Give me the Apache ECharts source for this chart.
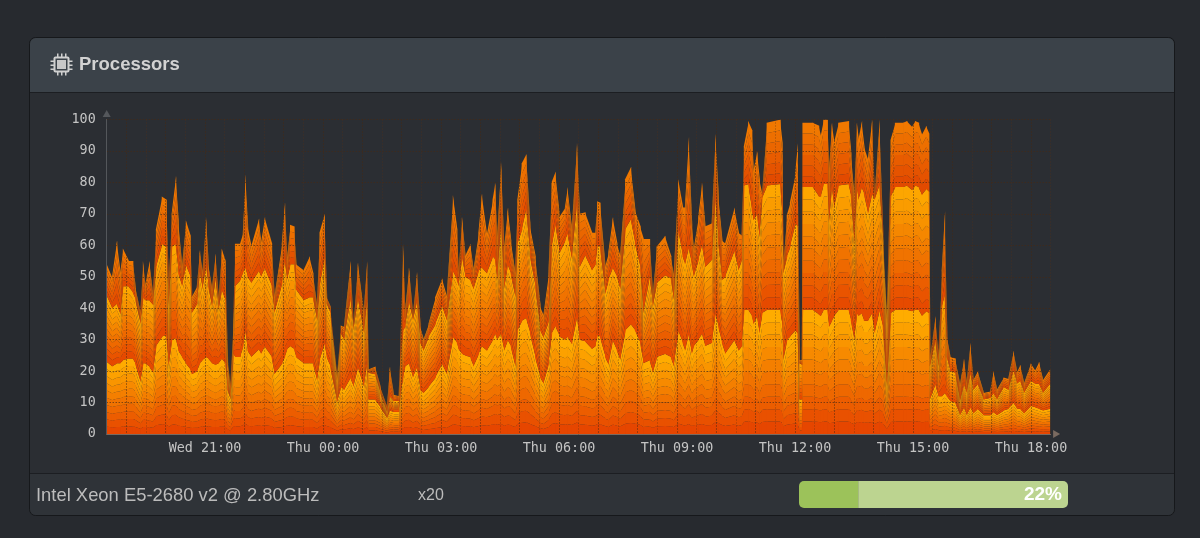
<!DOCTYPE html>
<html>
<head>
<meta charset="utf-8">
<title>Processors</title>
<style>
html,body{margin:0;padding:0;background:#272a2f;}
#main{width:1200px;height:538px;}
</style>
<script src="https://cdn.jsdelivr.net/npm/echarts@6/dist/echarts.min.js"></script>
</head>
<body>
<div id="main"></div>
<script>
// hours counted from Wed 21:00
var hours = [-2.5,-2.37,-2.25,-2.16,-2.09,-1.95,-1.84,-1.78,-1.65,-1.58,-1.53,-1.42,-1.33,-1.25,-1.1,-0.99,-0.93,-0.85,-0.75,-0.68,-0.59,-0.49,-0.38,-0.34,-0.21,-0.14,-0.07,0.02,0.08,0.17,0.26,0.34,0.42,0.51,0.57,0.64,0.72,0.76,0.89,0.96,1.02,1.08,1.17,1.36,1.42,1.51,1.69,1.76,1.95,2.02,2.08,2.16,2.26,2.31,2.5,2.65,2.74,2.84,2.91,3.03,3.09,3.18,3.35,3.45,3.53,3.69,3.77,3.88,4.03,4.11,4.15,4.32,4.45,4.62,4.69,4.79,4.92,4.97,5.03,5.08,5.18,5.28,5.38,5.47,5.55,5.68,5.85,6.02,6.14,6.3,6.4,6.44,6.53,6.61,6.74,6.82,6.95,7.03,
	7.16,7.31,7.37,7.42,7.52,7.6,7.69,7.77,7.88,7.94,8.05,8.16,8.26,8.39,8.52,8.6,8.73,8.81,8.9,9.01,9.15,9.21,9.32,9.45,9.52,9.66,9.83,9.92,9.97,10.04,10.17,10.25,10.36,10.47,10.55,10.68,10.82,10.93,11.06,11.14,11.3,11.38,11.48,11.69,11.84,11.91,12.03,12.14,12.2,12.29,12.37,12.42,12.54,12.63,12.71,12.88,12.97,13.05,13.14,13.22,13.45,13.56,13.64,
	13.7,13.81,13.9,13.94,14.03,14.09,14.16,14.28,14.62,14.67,14.7,14.79,14.87,15,15.06,15.11,15.17,15.19,15.45,15.6,15.65,15.72,15.82,15.86,15.93,15.99,16.1,16.36,16.42,16.5,16.57,16.61,16.69,16.75,16.85,16.95,17.02,17.14,17.23,17.33,17.43,17.54,17.75,17.84,17.97,18.05,18.14,18.22,18.33,18.4,18.43,18.56,18.64,18.73,18.8,18.86,18.94,19.07,19.19,19.29,19.36,19.45,19.53,19.64,19.79,19.96,20.04,20.13,20.3,20.42,20.55,20.64,20.72,20.82,20.99,21.1,21.2,21.3,21.47];

// top edge of the three visible bands
var totalTop = [54,49.5,61.5,51,59,55,55,47,38.5,55,47,55,44,65,75.5,74.5,47,70,82,67,53,68,63,43.5,47,58.5,51,69,54,46,57.5,42.5,59,55,23.5,15,37.5,60.5,60.5,64,82.5,66,59.5,68.5,60.5,69,60.5,43.5,60.5,73.5,55.5,66.5,66,54,52,56.5,51,40.5,64,70,43.5,40.5,18,34.5,34,55,34,54.5,38.5,55,20.5,21.5,15,8.5,21.5,12.5,12,30,60.5,38.5,53,37.5,51.5,34,30,35,43.5,49.5,43.5,76,65,51,69,56.5,60.5,52,64,76.5,
	63,74.5,80,61.5,86.5,58.5,72,61.5,51,74.5,86,89,66,56.5,40.5,37.5,51,80,83.5,69,72,78.5,65,92.5,70,70.5,64,64,74,73.5,53,57.5,69,60.5,56.5,81,85,71,66,62,62,44,59.5,63,56.5,50,81,72,72,94.5,67,58.5,69,80,66,67,95.5,75.5,61.5,60.5,72,64,63,
	91.5,99.5,96.5,83.5,90,81,76,99,100,92.5,54,69.5,73.5,82.5,92.5,23.5,23.5,99,99,98,94.5,100,100,83.5,99,92.5,99,99.5,89,75.5,99,93.5,99.5,91.5,87,100,75.5,100,64,36,93.5,99,99,99.5,97.5,99.5,99,95,98,95.5,23.5,37.5,24.5,52,71,31,24.5,24,15.5,24,16,29,17,20,13,13.5,20,14,18,17.5,26.5,19.5,22,16,22.5,20,23,17,20.5];
var midTop = [44,40,41.5,38,47,47,45,43,35,43.5,42.5,42.5,41,53,60.5,59.5,40.5,59.5,60.5,51,47,54,50,38.5,41.5,52,46,54,47,40.5,50,39.5,46,42.5,22.5,13,36,47,49,51.5,53,50,48,52,50,53,47,38.5,48,55.5,49,54,54,46,42.5,43.5,43.5,36,47,56.5,41.5,38.5,17,32,30,43.5,33,43.5,32,42.5,19.5,19,13,7,12,10.5,10.5,23.5,33,34,42.5,36,42.5,29,26.5,31,35,41,36,52,49,47,56.5,50,49,46,52,53,
	51,56.5,55.5,49,68,46,54,51,43.5,60.5,65,72,56.5,47,33,30.5,36,59.5,67,57.5,61.5,64,55.5,74.5,53,57,52,54,60,59.5,44.5,49,53,50,46,65,68.5,60.5,53,38.5,50.5,40.5,48,50.5,49.5,42.5,65,56.5,54,59.5,54,50,55.5,60.5,53,55.5,75.5,60.5,49,50,58.5,52,55.5,
	79,79.5,71,68,70,62.5,75,79,79.5,69,51,56.5,59.5,67,66,22.5,22,78.5,78.5,75.5,75.5,79.5,79.5,67,79,72,79,79.5,75.5,60.5,78.5,74.5,78.5,76.5,70,76.5,74.5,79.5,61.5,35,75.5,78.5,78.5,79,77.5,79,78.5,76,78,77,21.5,30,21.5,40.5,44.5,24.5,20,19.5,10.5,16,13,19.5,14,16,11,11.5,13,11,15,14,20.5,16,17,13,17,16,16,13,16];
var lowTop = [23,21.5,22.5,22.5,23.5,24,24,22.5,16.5,22.5,22.5,21.5,19.5,28,31,31.5,21.5,30,30.5,26.5,24.5,22.5,20.5,19,20,22.5,23.5,24.5,24,22.5,22,22.5,24,22.5,14,11,25.5,24.5,24.5,28,33,26.5,24.5,27,25.5,28,24.5,19,22.5,24.5,27,28,27,24.5,22.5,22.5,22.5,17,23.5,29,24.5,21.5,10,15,14,18,15,21.5,15,22.5,11,11,8.5,5,7.5,7,7,13,18,21.5,22.5,18,21.5,14,13,15,18,22.5,19,31,29,27,25.5,25,24.5,21.5,25.5,28,
	26.5,30,32,30,32,26.5,30,28,21.5,33,36,37,32,24.5,18,16,22.5,32,34.5,31,30,31,28.5,37.5,30,29.5,27,28,31.5,31,24.5,22,30,26.5,23.5,33,35,33,29,22.5,23.5,19.5,24.5,25.5,24.5,21.5,33,29,26.5,32,25.5,28,30,32,28,29,38.5,34,29,25.5,30,26.5,28,
	39.5,39.5,37.5,35,37.5,32,38.5,39.5,39.5,34.5,23.5,30,31,33,32,11,11,39.5,39.5,38,37.5,39.5,39.5,34,36,37.5,39.5,39.5,36,30,38.5,37.5,38.5,36,36,38.5,32,39.5,34,15,38.5,39.5,39.5,39.5,39,39.5,39.5,37.5,39,38.5,11,16,12,12,13,12,10.5,10,6,8.5,6,8.5,6.5,8,6,6,7,6,7.5,8,10,8,8,6.5,9,8.5,8,7.5,8];

var yTicks = [0,10,20,30,40,50,60,70,80,90,100]
var xTickHours = [0,3,6,9,12,15,18,21]
var xTickLabels = ['Wed 21:00','Thu 00:00','Thu 03:00','Thu 06:00','Thu 09:00','Thu 12:00','Thu 15:00','Thu 18:00']
var cpuName = 'Intel Xeon E5-2680 v2 @ 2.80GHz'
var cpuCount = 'x20'
var cpuUsed = [22]
var cpuFree = [78]

// colour at the floor and at the top of each band, as r,g,b
var lowShades = shadeSteps([230, 70, 0], [255, 172, 0], 10)
var midShades = shadeSteps([230, 74, 0], [253, 166, 0], 10)
var topShades = shadeSteps([226, 74, 0], [240, 120, 0], 6)

function shadeSteps(from, to, n) {
	var list = []
	for (var i = 0; i < n; i++) {
		var f = i / (n - 1)
		list.push('rgb(' + [0, 1, 2].map(function(c) {
			return Math.round(from[c] + (to[c] - from[c]) * f)
		}).join(',') + ')')
	}
	return list
}

function bandData(floorArr, topArr) {
	var rows = []
	for (var i = 0; i < hours.length - 1; i++) {
		rows.push([hours[i], floorArr[i], topArr[i], hours[i + 1], floorArr[i + 1], topArr[i + 1]])
	}
	return rows
}

function bandSeries(name, floorArr, topArr, shades) {
	return {
		name: name,
		type: 'custom',
		coordinateSystem: 'cartesian2d',
		xAxisIndex: 0,
		yAxisIndex: 0,
		clip: true,
		silent: true,
		animation: false,
		z: 2,
		data: bandData(floorArr, topArr),
		renderItem: function(params, api) {
			var a0 = api.coord([api.value(0), api.value(1)])
			var a1 = api.coord([api.value(0), api.value(2)])
			var b0 = api.coord([api.value(3), api.value(4)])
			var b1 = api.coord([api.value(3), api.value(5)])
			var right = b0[0] + 0.7 // small overlap, hides the seam between columns
			var kids = []
			for (var k = 0; k < shades.length; k++) {
				var f0 = k / shades.length, f1 = (k + 1) / shades.length
				kids.push({
					type: 'polygon',
					shape: {points: [
						[a0[0], a0[1] + (a1[1] - a0[1]) * f0],
						[right, b0[1] + (b1[1] - b0[1]) * f0],
						[right, b0[1] + (b1[1] - b0[1]) * f1],
						[a0[0], a0[1] + (a1[1] - a0[1]) * f1]
					]},
					style: {fill: shades[k]}
				})
			}
			return {type: 'group', children: kids}
		}
	}
}

var zeroLine = hours.map(function() { return 0 })

// the chip icon next to the title
var iconParts = [
	{type: 'rect', z: 6, shape: {x: 53.5, y: 56.5, width: 16, height: 16, r: 2}, style: {fill: '#d0d0d0'}},
	{type: 'rect', z: 7, shape: {x: 55.5, y: 58.5, width: 12, height: 12}, style: {fill: '#3b4249'}},
	{type: 'rect', z: 8, shape: {x: 57, y: 60, width: 9, height: 9}, style: {fill: '#c8c8c8'}}
]
;[57, 61, 65].forEach(function(p) {
	iconParts.push({type: 'rect', z: 6, shape: {x: p, y: 53.5, width: 1.5, height: 22}, style: {fill: '#d0d0d0'}})
	iconParts.push({type: 'rect', z: 6, shape: {x: 50.5, y: p + 3.5, width: 22, height: 1.5}, style: {fill: '#d0d0d0'}})
})

var chart = echarts.init(document.getElementById('main'))

chart.setOption({
	animation: false,
	backgroundColor: '#272a2f',
	grid: [
		{left: 106.7, top: 119.5, width: 943.9, height: 314.5},
		{left: 799, top: 481, width: 269, height: 27}
	],
	xAxis: [
		{
			type: 'value',
			gridIndex: 0,
			min: -2.5,
			max: 21.5,
			interval: 0.5,
			z: 5,
			axisLine: {
				show: true,
				onZero: false,
				symbol: ['none', 'triangle'],
				symbolSize: [8, 7],
				symbolOffset: [0, 6],
				lineStyle: {color: '#7a6a60', width: 1}
			},
			axisTick: {show: false},
			axisLabel: {
				color: '#c4c4c4',
				fontFamily: 'DejaVu Sans Mono',
				fontSize: 13.4,
				margin: 8,
				showMinLabel: true,
				showMaxLabel: true,
				formatter: function(v) {
					var i = xTickHours.indexOf(v)
					return i >= 0 ? xTickLabels[i] : ''
				}
			},
			splitLine: {
				show: true,
				lineStyle: {color: ['rgba(90,50,20,0.55)', 'rgba(70,40,20,0.95)'], type: [1, 2], width: 1}
			}
		},
		{type: 'value', gridIndex: 1, min: 0, max: 100, show: false}
	],
	yAxis: [
		{
			type: 'value',
			gridIndex: 0,
			min: 0,
			max: 100,
			interval: 10,
			z: 5,
			axisLine: {
				show: true,
				onZero: false,
				symbol: ['none', 'triangle'],
				symbolSize: [8, 7],
				symbolOffset: [0, 6],
				lineStyle: {color: '#54575b', width: 1}
			},
			axisTick: {show: false},
			axisLabel: {
				color: '#c4c4c4',
				fontFamily: 'DejaVu Sans Mono',
				fontSize: 13.4,
				margin: 11,
				formatter: function(v) { return yTicks.indexOf(v) >= 0 ? String(v) : '' }
			},
			splitLine: {
				show: true,
				lineStyle: {color: 'rgba(70,42,22,0.95)', type: [1, 2], width: 1}
			}
		},
		{type: 'category', gridIndex: 1, data: ['cpu'], show: false}
	],
	series: [
		bandSeries('low', zeroLine, lowTop, lowShades),
		bandSeries('mid', lowTop, midTop, midShades),
		bandSeries('top', midTop, totalTop, topShades),
		{
			name: 'used',
			type: 'bar',
			xAxisIndex: 1,
			yAxisIndex: 1,
			stack: 'cpu',
			barWidth: 27,
			silent: true,
			itemStyle: {color: '#9cc25a', borderRadius: [5, 0, 0, 5]},
			data: cpuUsed
		},
		{
			name: 'free',
			type: 'bar',
			xAxisIndex: 1,
			yAxisIndex: 1,
			stack: 'cpu',
			barWidth: 27,
			silent: true,
			itemStyle: {color: '#bcd490', borderRadius: [0, 5, 5, 0]},
			label: {
				show: true,
				position: 'insideRight',
				distance: 6,
				color: '#ffffff',
				fontFamily: 'Liberation Sans',
				fontWeight: 'bold',
				fontSize: 19,
				formatter: function() { return cpuUsed[0] + '%' }
			},
			data: cpuFree
		}
	],
	graphic: [
		{type: 'rect', z: -3, shape: {x: 29.5, y: 37.5, width: 1145, height: 478, r: 6}, style: {fill: '#2b2e33', stroke: '#16181b', lineWidth: 1}},
		{type: 'rect', z: -2, shape: {x: 30, y: 38, width: 1144, height: 54, r: [6, 6, 0, 0]}, style: {fill: '#3b4249'}},
		{type: 'rect', z: -2, shape: {x: 30, y: 92, width: 1144, height: 1}, style: {fill: '#1c1e22'}},
		{type: 'rect', z: -2, shape: {x: 30, y: 474, width: 1144, height: 41, r: [0, 0, 6, 6]}, style: {fill: '#2f3338'}},
		{type: 'rect', z: -2, shape: {x: 30, y: 473, width: 1144, height: 1}, style: {fill: '#1c1e22'}},
		{type: 'group', children: iconParts},
		{type: 'text', z: 6, x: 79, y: 65, style: {text: 'Processors', fill: '#d2d2d2', font: 'bold 18.5px "Liberation Sans"', verticalAlign: 'middle'}},
		{type: 'text', z: 6, x: 36, y: 495.5, style: {text: cpuName, fill: '#bcbcbc', font: '18.4px "Liberation Sans"', verticalAlign: 'middle'}},
		{type: 'text', z: 6, x: 418, y: 495.5, style: {text: cpuCount, fill: '#bcbcbc', font: '16px "Liberation Sans"', verticalAlign: 'middle'}},
		{type: 'text', z: 6, x: 1079, y: 180, rotation: -Math.PI / 2, originX: 1079, originY: 180, style: {text: 'RRDTOOL / TOBI OETIKER', fill: '#55585c', font: '11px "DejaVu Sans Mono"', align: 'center', verticalAlign: 'middle'}}
	]
})

window.addEventListener('resize', function() {
	chart.resize()
})
</script>
</body>
</html>
